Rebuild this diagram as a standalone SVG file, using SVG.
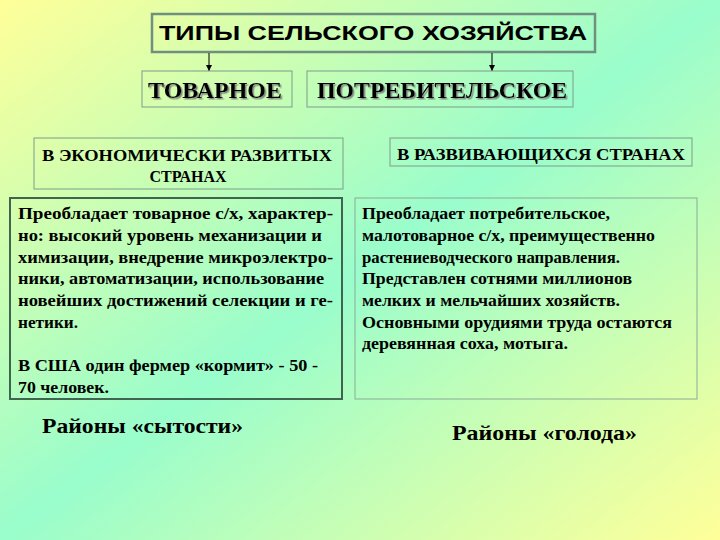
<svg xmlns="http://www.w3.org/2000/svg" width="720" height="540" viewBox="0 0 720 540">
<defs>
<linearGradient id="bg" x1="0" y1="0" x2="1" y2="1">
<stop offset="0" stop-color="#ffff99"/>
<stop offset="0.5" stop-color="#99fdcc"/>
<stop offset="1" stop-color="#ffff99"/>
</linearGradient>
<filter id="sh" x="-5%" y="-20%" width="110%" height="150%">
<feDropShadow dx="1.5" dy="1.5" stdDeviation="0.4" flood-color="#7a7a7a" flood-opacity="0.9"/>
</filter>
<marker id="ah" viewBox="0 0 8 8" refX="8" refY="4" markerWidth="6" markerHeight="6" orient="auto" markerUnits="userSpaceOnUse">
<path d="M0,0 L8,4 L0,8 z" fill="#000"/>
</marker>
</defs>
<style>
.box{fill:none;stroke:#7c9c8c;stroke-width:1}
.tr{font-family:"Liberation Serif","Times New Roman",serif;font-weight:bold;fill:#000}
.hd{font-size:16px}
.bd{font-size:16px}
.bg2{font-size:23px}
.lb{font-size:22px}
.con{stroke:#000;stroke-width:1;fill:none}
</style>
<rect x="0" y="0" width="720" height="540" fill="url(#bg)"/>

<g id="title">
<rect x="152" y="14" width="443" height="38" fill="none" stroke="#6f8f80" stroke-width="2.5"/>
<text x="159" y="40" font-family="'Liberation Sans',Arial,sans-serif" font-weight="bold" font-size="21" textLength="428" lengthAdjust="spacingAndGlyphs">ТИПЫ СЕЛЬСКОГО ХОЗЯЙСТВА</text>
</g>

<g id="connectors">
<line class="con" x1="209" y1="53" x2="209" y2="71" marker-end="url(#ah)"/>
<line class="con" x1="492" y1="53" x2="492" y2="71" marker-end="url(#ah)"/>
</g>

<g id="tovarnoe">
<rect class="box" x="142" y="71" width="150" height="36"/>
<text class="tr bg2" x="148" y="98" textLength="134" lengthAdjust="spacingAndGlyphs" filter="url(#sh)">ТОВАРНОЕ</text>
</g>

<g id="potrebitelskoe">
<rect class="box" x="307" y="71" width="266" height="36"/>
<text class="tr bg2" x="317" y="98" textLength="250" lengthAdjust="spacingAndGlyphs" filter="url(#sh)">ПОТРЕБИТЕЛЬСКОЕ</text>
</g>

<g id="hdr-left">
<rect class="box" x="34" y="138" width="309" height="51"/>
<text class="tr hd" x="42" y="161" textLength="290" lengthAdjust="spacingAndGlyphs">В ЭКОНОМИЧЕСКИ РАЗВИТЫХ</text>
<text class="tr hd" x="188" y="182" text-anchor="middle">СТРАНАХ</text>
</g>

<g id="hdr-right">
<rect class="box" x="390" y="138" width="302" height="28"/>
<text class="tr hd" x="397" y="160" textLength="288" lengthAdjust="spacingAndGlyphs">В РАЗВИВАЮЩИХСЯ СТРАНАХ</text>
</g>

<g id="body-left">
<rect x="10" y="198" width="332" height="201" fill="none" stroke="#3f6550" stroke-width="2"/>
<text class="tr bd" x="18" y="219" textLength="315" lengthAdjust="spacingAndGlyphs">Преобладает  товарное  с/х,  характер-</text>
<text class="tr bd" x="18" y="241" textLength="304" lengthAdjust="spacingAndGlyphs">но: высокий  уровень  механизации  и</text>
<text class="tr bd" x="18" y="263" textLength="315" lengthAdjust="spacingAndGlyphs">химизации, внедрение  микроэлектро-</text>
<text class="tr bd" x="18" y="284" textLength="306" lengthAdjust="spacingAndGlyphs">ники,  автоматизации,  использование</text>
<text class="tr bd" x="18" y="306" textLength="315" lengthAdjust="spacingAndGlyphs">новейших достижений селекции  и  ге-</text>
<text class="tr bd" x="18" y="328" textLength="60" lengthAdjust="spacingAndGlyphs">нетики.</text>
<text class="tr bd" x="18" y="371" textLength="300" lengthAdjust="spacingAndGlyphs">В США один фермер «кормит» - 50 -</text>
<text class="tr bd" x="18" y="393" textLength="91" lengthAdjust="spacingAndGlyphs">70 человек.</text>
</g>

<g id="body-right">
<rect x="355" y="198" width="342" height="201" fill="none" stroke="#8aac98" stroke-width="1"/>
<text class="tr bd" x="362" y="219" textLength="248" lengthAdjust="spacingAndGlyphs">Преобладает потребительское,</text>
<text class="tr bd" x="362" y="241" textLength="293" lengthAdjust="spacingAndGlyphs">малотоварное с/х, преимущественно</text>
<text class="tr bd" x="362" y="263" textLength="258" lengthAdjust="spacingAndGlyphs">растениеводческого направления.</text>
<text class="tr bd" x="362" y="284" textLength="270" lengthAdjust="spacingAndGlyphs">Представлен сотнями миллионов</text>
<text class="tr bd" x="362" y="306" textLength="258" lengthAdjust="spacingAndGlyphs">мелких и мельчайших хозяйств.</text>
<text class="tr bd" x="362" y="328" textLength="310" lengthAdjust="spacingAndGlyphs">Основными орудиями труда остаются</text>
<text class="tr bd" x="362" y="349" textLength="206" lengthAdjust="spacingAndGlyphs">деревянная соха, мотыга.</text>
</g>

<g id="label-left">
<text class="tr lb" x="42" y="433" textLength="201" lengthAdjust="spacingAndGlyphs">Районы «сытости»</text>
</g>
<g id="label-right">
<text class="tr lb" x="452" y="440" textLength="185" lengthAdjust="spacingAndGlyphs">Районы «голода»</text>
</g>
</svg>
